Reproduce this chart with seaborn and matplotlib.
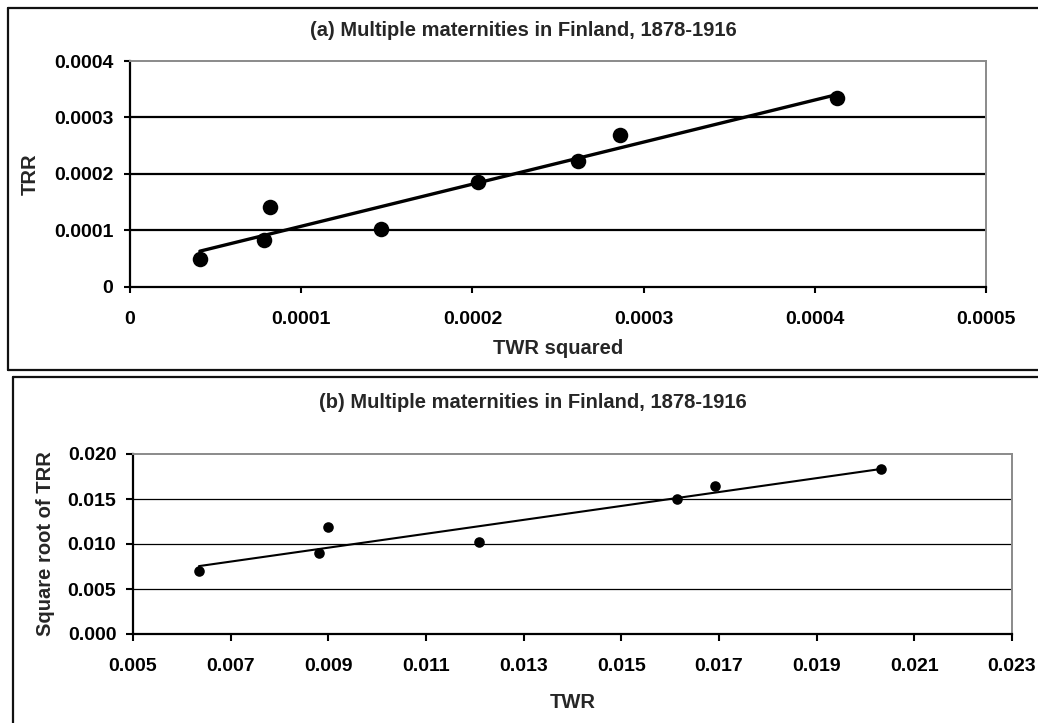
import numpy as np
import pandas as pd
import matplotlib
matplotlib.use("Agg")
import matplotlib.pyplot as plt
from matplotlib.lines import Line2D
from matplotlib.ticker import FuncFormatter
import seaborn as sns

# (a) TWR squared vs TRR
twr_sq = [0.0000408, 0.0000782, 0.0000817, 0.0001464, 0.000203, 0.0002614, 0.0002865, 0.000413]
trr = [0.0000496, 0.0000832, 0.0001416, 0.0001027, 0.000186, 0.000223, 0.000269, 0.0003345]

# (b) TWR vs square root of TRR
twr = [0.00635, 0.00880, 0.00900, 0.01208, 0.01615, 0.01691, 0.02032]
sqrt_trr = [0.00703, 0.00896, 0.01185, 0.01019, 0.01496, 0.01641, 0.01830]

title_a = "(a) Multiple maternities in Finland, 1878-1916"
title_b = "(b) Multiple maternities in Finland, 1878-1916"

sns.set_style("white")
plt.rcParams['font.family'] = ['Liberation Sans', 'DejaVu Sans']
plt.rcParams['font.weight'] = 'bold'

W, H = 1038, 723
fig = plt.figure(figsize=(W / 100, H / 100), dpi=100)

df_a = pd.DataFrame({'x': twr_sq, 'y': trr})
df_b = pd.DataFrame({'x': twr, 'y': sqrt_trr})

TICK_FS = 14
LABEL_FS = 14.5


def frac(x0, y0, x1, y1):
    # pixel box -> figure fraction [left, bottom, width, height]
    return [x0 / W, 1 - y1 / H, (x1 - x0) / W, (y1 - y0) / H]


def style_axes(ax, grid_lw, pad_x, pad_y, tick_len):
    for s in ['left', 'bottom']:
        ax.spines[s].set_color('black')
        ax.spines[s].set_linewidth(1.6)
    for s in ['top', 'right']:
        ax.spines[s].set_color('#8a8a8a')
        ax.spines[s].set_linewidth(1.4)
    ax.tick_params(axis='both', direction='out', length=tick_len, width=1.5,
                   colors='black', labelsize=TICK_FS, left=True, bottom=True)
    ax.tick_params(axis='x', pad=pad_x)
    ax.tick_params(axis='y', pad=pad_y)
    for lab in ax.get_xticklabels() + ax.get_yticklabels():
        lab.set_fontweight('bold')
    ax.grid(False)
    for t in ax.get_yticks()[1:-1]:
        ax.axhline(t, color='black', lw=grid_lw, zorder=1)


# panel (a)
ax1 = fig.add_axes(frac(130, 61, 986, 287))
sns.regplot(data=df_a, x='x', y='y', ax=ax1, ci=None, truncate=True,
            scatter_kws={'s': 125, 'color': 'black', 'alpha': 1, 'zorder': 3, 'linewidths': 0},
            line_kws={'color': 'black', 'lw': 2.4, 'zorder': 2})
ax1.set_xlim(0, 0.0005)
ax1.set_ylim(0, 0.0004)
ax1.set_xticks(np.arange(0, 0.00051, 0.0001))
ax1.set_yticks(np.arange(0, 0.00041, 0.0001))
fmt4 = FuncFormatter(lambda v, p: '0' if abs(v) < 1e-12 else f'{v:.4f}')
ax1.xaxis.set_major_formatter(fmt4)
ax1.yaxis.set_major_formatter(fmt4)
style_axes(ax1, 1.6, 13, 8, 4)
ax1.set_xlabel('TWR squared', fontsize=LABEL_FS, fontweight='bold', labelpad=8)
ax1.set_ylabel('TRR', fontsize=LABEL_FS, fontweight='bold', labelpad=10)

# panel (b)
ax2 = fig.add_axes(frac(133, 454, 1012, 634))
sns.regplot(data=df_b, x='x', y='y', ax=ax2, ci=None, truncate=True,
            scatter_kws={'s': 58, 'color': 'black', 'alpha': 1, 'zorder': 3, 'linewidths': 0},
            line_kws={'color': 'black', 'lw': 1.5, 'zorder': 2})
ax2.set_xlim(0.005, 0.023)
ax2.set_ylim(0, 0.020)
ax2.set_xticks(np.arange(0.005, 0.0231, 0.002))
ax2.set_yticks(np.arange(0, 0.0201, 0.005))
fmt3 = FuncFormatter(lambda v, p: f'{v:.3f}')
ax2.xaxis.set_major_formatter(fmt3)
ax2.yaxis.set_major_formatter(fmt3)
style_axes(ax2, 0.9, 12, 7, 5)
ax2.set_xlabel('TWR', fontsize=LABEL_FS, fontweight='bold', labelpad=13)
ax2.set_ylabel('Square root of TRR', fontsize=LABEL_FS, fontweight='bold', labelpad=9)

fig.text(523 / W, 1 - 31 / H, title_a, ha='center', va='center',
         fontsize=LABEL_FS, fontweight='bold')
fig.text(533 / W, 1 - 403 / H, title_b, ha='center', va='center',
         fontsize=LABEL_FS, fontweight='bold')

# frames around the two charts
px = fig.transFigure


def pline(xs, ys):
    fig.add_artist(Line2D([x / W for x in xs], [1 - y / H for y in ys],
                          transform=px, color='#111111', lw=1.6))


pline([8, 8], [8, 370])
pline([8, W], [8, 8])
pline([8, W], [370, 370])
pline([13, 13], [377, H])
pline([13, W], [377, 377])

fig.savefig('out.png', dpi=100)
